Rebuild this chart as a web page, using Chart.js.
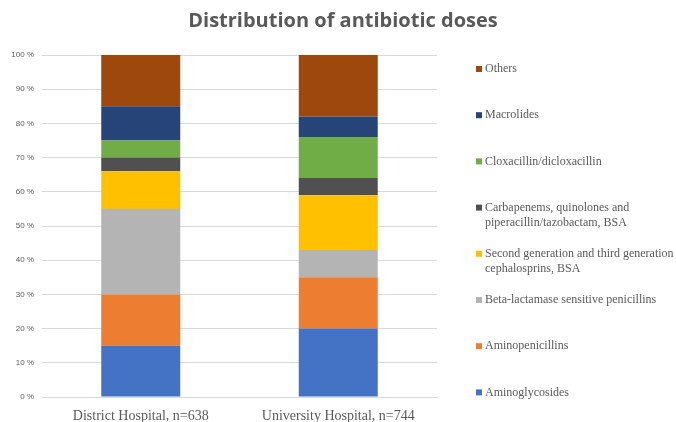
<!DOCTYPE html>
<html>
<head>
<meta charset="utf-8">
<script src="https://cdn.jsdelivr.net/npm/chart.js@4/dist/chart.umd.min.js"></script>
<style>
  html, body { margin: 0; padding: 0; background: #fff; }
  #wrap { width: 676px; height: 422px; position: relative; }
</style>
</head>
<body>
<div id="wrap"><canvas id="c"></canvas></div>
<script>
// data (percent of doses)
const hospitals = ["District Hospital, n=638", "University Hospital, n=744"];
const classes = [
  "Aminoglycosides",
  "Aminopenicillins",
  "Beta-lactamase sensitive penicillins",
  "Second generation and third generation\ncephalosprins, BSA",
  "Carbapenems, quinolones and\npiperacillin/tazobactam, BSA",
  "Cloxacillin/dicloxacillin",
  "Macrolides",
  "Others"
];
const districtPct   = [15, 15, 25, 11, 4, 5, 10, 15];
const universityPct = [20, 15, 8, 16, 5, 12, 6, 18];
const yTicks = [0, 10, 20, 30, 40, 50, 60, 70, 80, 90, 100];
const chartTitle = "Distribution of antibiotic doses";

const COLORS = ["#4472C4", "#ED7D31", "#B4B4B4", "#FFC000", "#505050", "#70AD47", "#264478", "#9E480E"];
const TXT = "#595959";
const GRID = "#D9D9D9";

// title centred on the whole picture, not on the plot (right side is the legend)
const pageTitle = {
  id: "pageTitle",
  afterDraw(chart) {
    const ctx = chart.ctx;
    ctx.save();
    ctx.font = "bold 20px 'Open Sans'";
    ctx.fillStyle = TXT;
    ctx.textAlign = "center";
    ctx.textBaseline = "middle";
    ctx.fillText(chartTitle, 343, 21);
    ctx.restore();
  }
};

// Excel-style legend: top entry first, one slot per entry, wrapped lines
const sideLegend = {
  id: "sideLegend",
  afterDraw(chart) {
    const ctx = chart.ctx;
    const sets = chart.data.datasets.slice().reverse();
    const x0 = 476, y0 = 69, step = 46.2;
    ctx.save();
    ctx.font = "12px 'Liberation Serif'";
    ctx.textBaseline = "middle";
    sets.forEach((ds, i) => {
      const y = y0 + i * step;
      ctx.fillStyle = ds.backgroundColor;
      ctx.fillRect(x0, y - 3, 6, 6);
      ctx.fillStyle = TXT;
      ds.label.split("\n").forEach((line, j) => ctx.fillText(line, x0 + 9, y + j * 15));
    });
    ctx.restore();
  }
};

const datasets = classes.map((name, i) => ({
  label: name,
  data: [districtPct[i], universityPct[i]],
  backgroundColor: COLORS[i],
  borderWidth: 0,
  categoryPercentage: 1,
  barPercentage: 0.4
}));

new Chart(document.getElementById("c"), {
  type: "bar",
  data: { labels: hospitals, datasets },
  plugins: [pageTitle, sideLegend],
  options: {
    responsive: true, maintainAspectRatio: false, animation: false,
    layout: { padding: { left: 0, right: 239, top: 55, bottom: 0 } },
    plugins: {
      legend: { display: false },
      tooltip: { enabled: false },
      title: { display: false }
    },
    scales: {
      x: {
        stacked: true,
        grid: { display: false },
        border: { color: GRID },
        ticks: { color: TXT, font: { family: "'Liberation Serif'", size: 14 }, padding: 3 },
        afterFit: s => { s.height = 25; }
      },
      y: {
        stacked: true,
        min: 0, max: 100,
        afterBuildTicks: s => { s.ticks = yTicks.map(v => ({ value: v })); },
        grid: { color: GRID, drawTicks: false },
        border: { display: false },
        ticks: { color: TXT, font: { family: "'Liberation Sans'", size: 8 }, padding: 8, callback: v => v + " %" },
        afterFit: s => { s.width = 42; }
      }
    }
  }
});
</script>
</body>
</html>
